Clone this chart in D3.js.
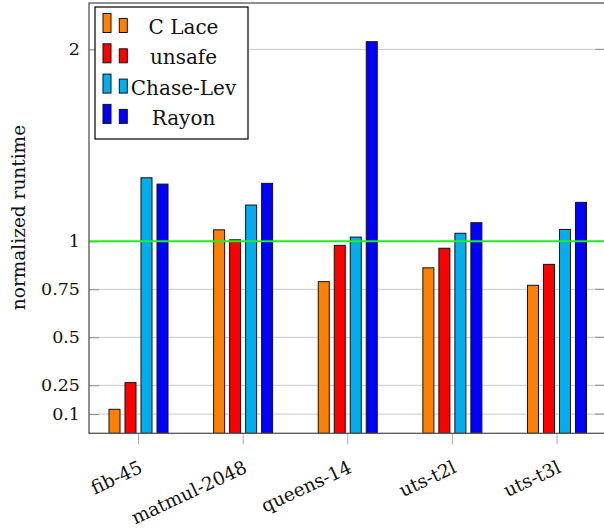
<!DOCTYPE html>
<html>
<head>
<meta charset="utf-8">
<script src="https://cdn.jsdelivr.net/npm/d3@7"></script>
<style>
  html, body { margin: 0; padding: 0; background: #fff; }
  svg { display: block; }
  svg text { font-family: "DejaVu Serif", serif; fill: #111; }
</style>
</head>
<body>
<svg id="chart" width="604" height="529"></svg>
<script>
// Benchmarks and normalized runtimes per scheduler
const categories = ["fib-45", "matmul-2048", "queens-14", "uts-t2l", "uts-t3l"];
const seriesNames = ["C Lace", "unsafe", "Chase-Lev", "Rayon"];
const cLace    = [0.125, 1.060, 0.790, 0.862, 0.771];
const unsafe   = [0.264, 1.008, 0.979, 0.964, 0.880];
const chaseLev = [1.331, 1.189, 1.022, 1.042, 1.062];
const rayon    = [1.298, 1.302, 2.040, 1.097, 1.203];
const yTicks = [0.1, 0.25, 0.5, 0.75, 1, 2];
const yTickLabels = ["0.1", "0.25", "0.5", "0.75", "1", "2"];
const baseline = 1;

const seriesValues = [cLace, unsafe, chaseLev, rayon];
const colors = ["#ff8000", "#ff0000", "#00aeef", "#0000ff"];
const FONT = "DejaVu Serif";

const svg = d3.select("#chart");
const plot = { left: 89, right: 605, top: 3, bottom: 433.3 };

const y = d3.scaleLinear().domain([0, 2.2415]).range([plot.bottom, plot.top]);
const x = d3.scaleLinear().domain([0, categories.length - 1]).range([138.5, 557]);
const barW = 11, barStep = 16;

// Horizontal grid
svg.append("g").selectAll("line").data(yTicks).join("line")
  .attr("x1", plot.left).attr("x2", plot.right)
  .attr("y1", d => y(d)).attr("y2", d => y(d))
  .attr("stroke", "#c8c8c8").attr("stroke-width", 1);

// Y axis (left) with inward ticks
const yAxis = d3.axisLeft(y).tickValues(yTicks)
  .tickFormat((d, i) => yTickLabels[i]).tickSizeInner(-10).tickSizeOuter(0).tickPadding(9);
const gy = svg.append("g").attr("transform", `translate(${plot.left},0)`).call(yAxis)
  .attr("font-family", FONT).attr("font-size", 17.5);
gy.select(".domain").remove();
gy.selectAll(".tick line").attr("stroke", "#8c8c8c");
gy.selectAll(".tick text").attr("fill", "#111");

// Right side ticks
svg.append("g").selectAll("line").data(yTicks).join("line")
  .attr("x1", plot.right - 10).attr("x2", plot.right)
  .attr("y1", d => y(d)).attr("y2", d => y(d))
  .attr("stroke", "#8c8c8c");

// Bars
const groups = svg.append("g").selectAll("g").data(seriesValues).join("g")
  .attr("fill", (d, i) => colors[i]);
groups.each(function(vals, k) {
  d3.select(this).selectAll("rect").data(vals).join("rect")
    .attr("x", (d, i) => x(i) + (k - 1.5) * barStep - barW / 2)
    .attr("width", barW)
    .attr("y", d => y(d))
    .attr("height", d => plot.bottom - y(d))
    .attr("stroke", "#111").attr("stroke-width", 1);
});

// Reference line at 1
svg.append("line")
  .attr("x1", plot.left).attr("x2", plot.right)
  .attr("y1", y(baseline)).attr("y2", y(baseline))
  .attr("stroke", "#22ee22").attr("stroke-width", 2);

// X axis ticks and rotated labels
const xg = svg.append("g");
xg.selectAll("line").data(categories).join("line")
  .attr("x1", (d, i) => x(i)).attr("x2", (d, i) => x(i))
  .attr("y1", plot.bottom).attr("y2", plot.bottom + 11)
  .attr("stroke", "#aaaaaa");
xg.selectAll("text").data(categories).join("text")
  .attr("transform", (d, i) => `translate(${x(i) + 3},${plot.bottom + 34}) rotate(-25)`)
  .attr("text-anchor", "end")
  .attr("dominant-baseline", "middle")
  .attr("font-size", 18.5)
  .text(d => d);

// Frame
svg.append("rect")
  .attr("x", plot.left).attr("y", plot.top)
  .attr("width", plot.right - plot.left).attr("height", plot.bottom - plot.top)
  .attr("fill", "none").attr("stroke", "#555").attr("stroke-width", 1.3);

// Y axis title
svg.append("text")
  .attr("transform", `translate(25,217.5) rotate(-90)`)
  .attr("text-anchor", "middle")
  .attr("font-size", 18.5)
  .text("normalized runtime");

// Legend
const lg = svg.append("g");
lg.append("rect").attr("x", 95).attr("y", 7).attr("width", 153).attr("height", 132)
  .attr("fill", "#fff").attr("stroke", "#111").attr("stroke-width", 1.3);
seriesNames.forEach((name, i) => {
  const by = 32.5 + i * 30.3;
  lg.append("rect").attr("x", 103).attr("y", by - 19).attr("width", 8).attr("height", 19)
    .attr("fill", colors[i]).attr("stroke", "#111").attr("stroke-width", 1);
  lg.append("rect").attr("x", 119.3).attr("y", by - 14).attr("width", 8).attr("height", 14)
    .attr("fill", colors[i]).attr("stroke", "#111").attr("stroke-width", 1);
  lg.append("text").attr("x", 183.5).attr("y", by + 1.5)
    .attr("text-anchor", "middle").attr("font-size", 20).text(name);
});
</script>
</body>
</html>
